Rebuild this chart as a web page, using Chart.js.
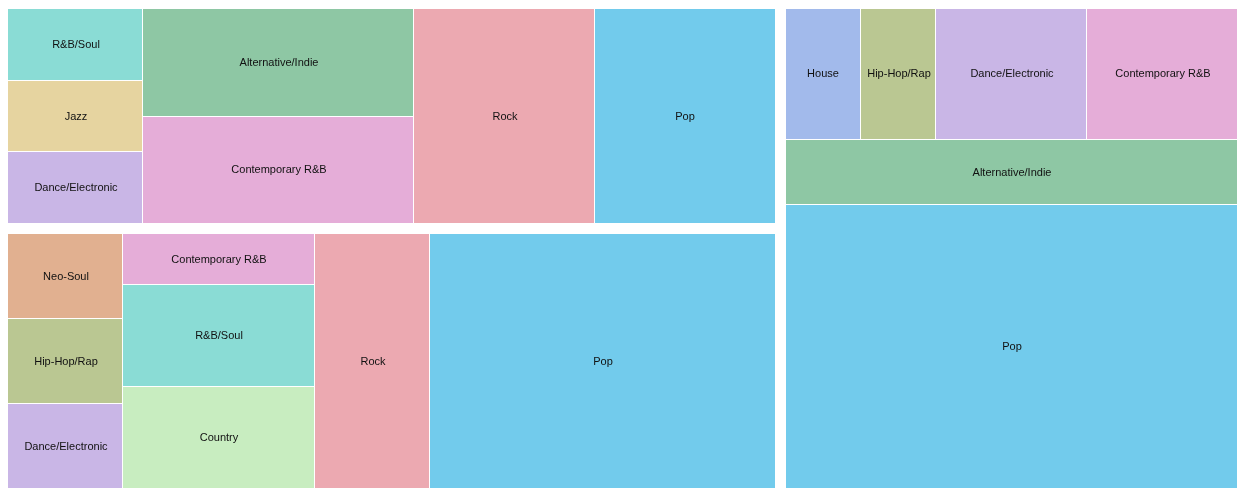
<!DOCTYPE html>
<html lang="en">
<head>
    <meta charset="UTF-8">
    <script src="https://cdn.jsdelivr.net/npm/chart.js@4.4.0/dist/chart.umd.min.js"></script>
    <title>Genre treemap</title>
    <style>
        body { margin: 0; background: #fff; }
        #wrap { width: 1246px; height: 501px; }
    </style>
</head>
<body>

<div id="wrap"><canvas id="chart"></canvas></div>

<script>
// three lists, each laid out as one block of the treemap
const genresA = ['R&B/Soul', 'Jazz', 'Dance/Electronic', 'Alternative/Indie', 'Contemporary R&B', 'Rock', 'Pop'];
const countsA = [1, 1, 1, 3, 3, 4, 4];

const genresB = ['Neo-Soul', 'Hip-Hop/Rap', 'Dance/Electronic', 'Contemporary R&B', 'R&B/Soul', 'Country', 'Rock', 'Pop'];
const countsB = [1, 1, 1, 1, 2, 2, 3, 9];

const genresC = ['House', 'Hip-Hop/Rap', 'Dance/Electronic', 'Contemporary R&B', 'Alternative/Indie', 'Pop'];
const countsC = [1, 1, 2, 2, 3, 13];

const genreColors = {
    'Pop': '#72cbec',
    'Rock': '#eca9b1',
    'Alternative/Indie': '#8ec7a4',
    'Contemporary R&B': '#e5add8',
    'R&B/Soul': '#8adcd5',
    'Jazz': '#e6d4a0',
    'Dance/Electronic': '#c9b6e6',
    'Neo-Soul': '#e1b090',
    'Hip-Hop/Rap': '#bac792',
    'Country': '#c8edc0',
    'House': '#a2baeb'
};

const PHI = (1 + Math.sqrt(5)) / 2;

// squarified layout (golden ratio target), keeps input order
function squarify(values, x0, y0, x1, y1) {
    const out = [];
    const n = values.length;
    let value = values.reduce((a, b) => a + b, 0);
    let i0 = 0, i1 = 0;
    while (i0 < n) {
        const dx = x1 - x0, dy = y1 - y0;
        let sumValue = values[i1++];
        let minValue = sumValue, maxValue = sumValue;
        const alpha = Math.max(dy / dx, dx / dy) / (value * PHI);
        let beta = sumValue * sumValue * alpha;
        let minRatio = Math.max(maxValue / beta, beta / minValue);
        for (; i1 < n; ++i1) {
            const v = values[i1];
            sumValue += v;
            if (v < minValue) minValue = v;
            if (v > maxValue) maxValue = v;
            beta = sumValue * sumValue * alpha;
            const newRatio = Math.max(maxValue / beta, beta / minValue);
            if (newRatio > minRatio) { sumValue -= v; break; }
            minRatio = newRatio;
        }
        if (dx < dy) {
            const yy = i1 >= n ? y1 : y0 + dy * sumValue / value;
            let xx = x0;
            for (let k = i0; k < i1; k++) {
                const w = dx * values[k] / sumValue;
                out[k] = {x0: xx, y0: y0, x1: xx + w, y1: yy};
                xx += w;
            }
            y0 = yy;
        } else {
            const xx = i1 >= n ? x1 : x0 + dx * sumValue / value;
            let yy = y0;
            for (let k = i0; k < i1; k++) {
                const h = dy * values[k] / sumValue;
                out[k] = {x0: x0, y0: yy, x1: xx, y1: yy + h};
                yy += h;
            }
            x0 = xx;
        }
        value -= sumValue;
        i0 = i1;
    }
    return out;
}

const groupGap = 5.5;

const treemapPlugin = {
    id: 'treemap',
    afterDatasetsDraw(chart) {
        const ctx = chart.ctx;
        const xs = chart.scales.x, ys = chart.scales.y;
        const left = xs.getPixelForValue(0), right = xs.getPixelForValue(1);
        const top = ys.getPixelForValue(0), bottom = ys.getPixelForValue(1);

        const sets = chart.data.datasets;
        const totals = sets.map(ds => ds.counts.reduce((a, b) => a + b, 0));
        const blocks = squarify(totals, left, top, right, bottom);

        ctx.save();
        sets.forEach((ds, gi) => {
            const b = blocks[gi];
            const cells = squarify(ds.counts, b.x0 + groupGap, b.y0 + groupGap, b.x1 - groupGap + 1, b.y1 - groupGap + 1);
            cells.forEach((c, i) => {
                const x = Math.round(c.x0), y = Math.round(c.y0);
                const w = Math.round(c.x1) - x - 1, h = Math.round(c.y1) - y - 1;
                ctx.fillStyle = genreColors[ds.genres[i]];
                ctx.fillRect(x, y, w, h);
            });
            ctx.fillStyle = '#111';
            ctx.font = '11px "Liberation Sans", Arial, sans-serif';
            ctx.textAlign = 'center';
            ctx.textBaseline = 'middle';
            cells.forEach((c, i) => {
                ctx.fillText(ds.genres[i], Math.round((c.x0 + c.x1) / 2), Math.round((c.y0 + c.y1) / 2));
            });
        });
        ctx.restore();
    }
};

const ctx = document.getElementById('chart').getContext('2d');
const myChart = new Chart(ctx, {
    type: 'scatter',
    data: {
        datasets: [
            { label: 'A', data: [], genres: genresA, counts: countsA },
            { label: 'B', data: [], genres: genresB, counts: countsB },
            { label: 'C', data: [], genres: genresC, counts: countsC }
        ]
    },
    options: {
        responsive: true,
        maintainAspectRatio: false,
        animation: false,
        layout: { padding: { left: 2.5, right: 3.5, top: 3.5, bottom: 7.5 } },
        plugins: { legend: { display: false }, tooltip: { enabled: false } },
        scales: {
            x: { type: 'linear', min: 0, max: 1, display: false },
            y: { type: 'linear', min: 0, max: 1, reverse: true, display: false }
        }
    },
    plugins: [treemapPlugin]
});
</script>
</body>
</html>
